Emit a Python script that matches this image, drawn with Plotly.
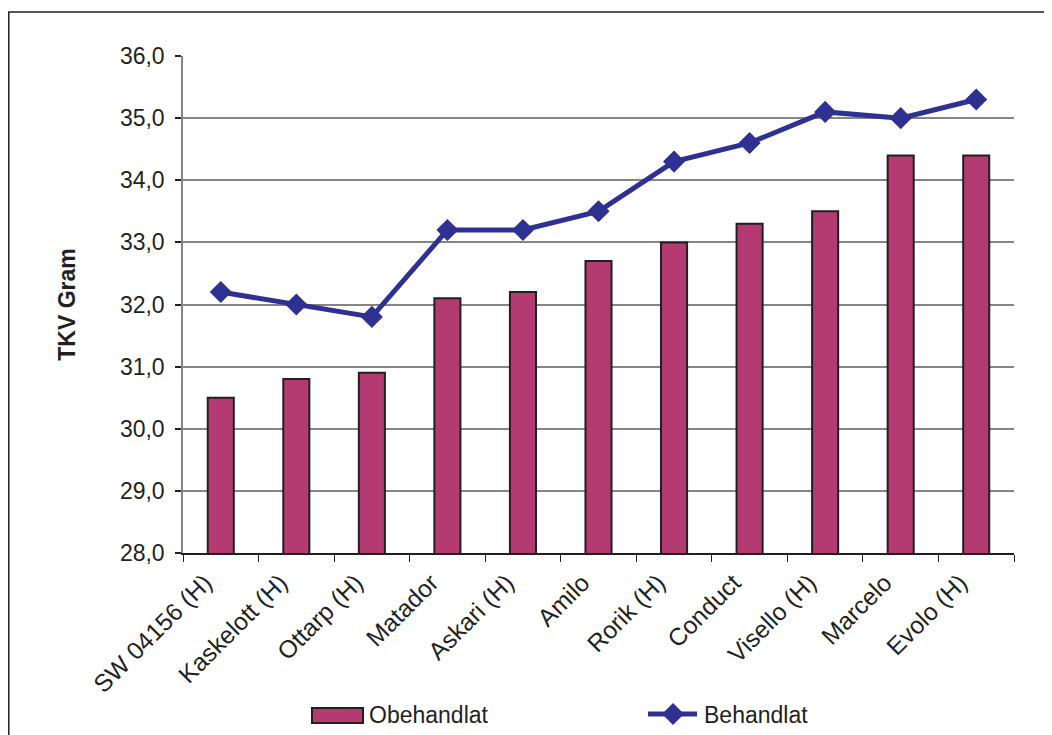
import plotly.graph_objects as go

categories = ["SW 04156 (H)", "Kaskelott (H)", "Ottarp (H)", "Matador", "Askari (H)",
              "Amilo", "Rorik (H)", "Conduct", "Visello (H)", "Marcelo", "Evolo (H)"]
obehandlat = [30.5, 30.8, 30.9, 32.1, 32.2, 32.7, 33.0, 33.3, 33.5, 34.4, 34.4]
behandlat = [32.2, 32.0, 31.8, 33.2, 33.2, 33.5, 34.3, 34.6, 35.1, 35.0, 35.3]
y_ticks = [28, 29, 30, 31, 32, 33, 34, 35, 36]
y_tick_labels = ["28,0", "29,0", "30,0", "31,0", "32,0", "33,0", "34,0", "35,0", "36,0"]

BAR = "#B43A72"
LINE = "#2E3192"
DARK = "#231F20"
GRID = "#858585"
FONT = "Liberation Sans"

OFF = 8  # page body margin offset
W, H = 1052 - OFF, 735 - OFF
L, T = 183 - OFF, 56 - OFF
pw, ph = 831, 497
R, B = W - L - pw, H - T - ph


def px(x):
    return (x - OFF - L) / pw


def py(y):
    return (H - B - (y - OFF)) / ph


fig = go.Figure()
fig.add_trace(go.Bar(x=categories, y=obehandlat, name="Obehandlat", width=0.345,
                     marker=dict(color=BAR, line=dict(color=DARK, width=2)),
                     showlegend=False))
fig.add_trace(go.Scatter(x=categories, y=behandlat, name="Behandlat", mode="lines+markers",
                         line=dict(color=LINE, width=5),
                         marker=dict(symbol="diamond", size=17, color=LINE),
                         showlegend=False))

shapes = [
    # outer frame
    dict(type="rect", xref="paper", yref="paper", x0=px(8.8), x1=px(1070), y0=py(12), y1=py(760),
         line=dict(color=DARK, width=1.5), fillcolor="rgba(0,0,0,0)", layer="below"),
    # legend swatch for bars
    dict(type="rect", xref="paper", yref="paper", x0=px(312), x1=px(363), y0=py(708), y1=py(723),
         line=dict(color=DARK, width=2), fillcolor=BAR),
    # legend line for scatter
    dict(type="line", xref="paper", yref="paper", x0=px(648), x1=px(697), y0=py(714), y1=py(714),
         line=dict(color=LINE, width=5)),
    dict(type="path", xref="paper", yref="paper",
         path="M {a},{b} L {c},{d} L {e},{b} L {c},{f} Z".format(
             a=px(662), b=py(714), c=px(673), d=py(703), e=px(684), f=py(725)),
         line=dict(color=LINE, width=0), fillcolor=LINE),
]

annotations = [
    dict(text="Obehandlat", xref="paper", yref="paper", x=px(367), y=py(715),
         xanchor="left", yanchor="middle", showarrow=False,
         font=dict(family=FONT, size=23, color=DARK)),
    dict(text="Behandlat", xref="paper", yref="paper", x=px(702), y=py(715),
         xanchor="left", yanchor="middle", showarrow=False,
         font=dict(family=FONT, size=23, color=DARK)),
]

fig.update_layout(
    width=W, height=H,
    margin=dict(l=L, r=R, t=T, b=B),
    paper_bgcolor="white", plot_bgcolor="white",
    font=dict(family=FONT, size=23, color=DARK),
    shapes=shapes,
    annotations=annotations,
    xaxis=dict(
        type="category", showgrid=False, showline=True, linecolor=DARK, linewidth=1.5,
        ticks="outside", tickson="boundaries", ticklen=7, tickcolor=DARK, tickwidth=1.2,
        tickangle=-45, tickfont=dict(family=FONT, size=24.5, color=DARK),
        ticklabelstandoff=4, ticklabelshift=-16,
        range=[-0.5, len(categories) - 0.5],
    ),
    yaxis=dict(
        range=[28, 36], tickvals=y_ticks, ticktext=y_tick_labels,
        showgrid=True, gridcolor=GRID, gridwidth=1.5,
        showline=True, linecolor=GRID, linewidth=1.5,
        ticks="outside", ticklen=6, tickcolor=DARK, tickwidth=1.5,
        ticklabelstandoff=6,
        tickfont=dict(family=FONT, size=23, color=DARK),
        title=dict(text="<b>TKV Gram</b>", font=dict(family=FONT, size=23, color=DARK), standoff=38),
        zeroline=False,
    ),
)

fig.write_html("out.html")
